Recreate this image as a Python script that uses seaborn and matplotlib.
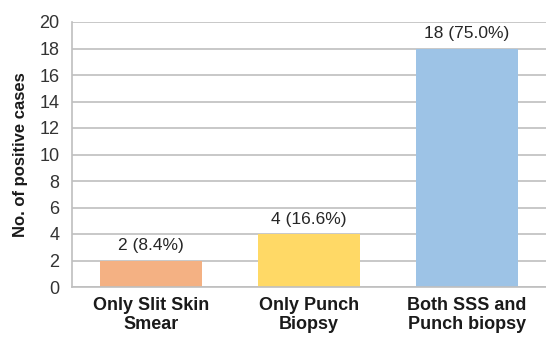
import matplotlib
matplotlib.use("Agg")
import matplotlib.pyplot as plt
import seaborn as sns
import pandas as pd

categories = ["Only Slit Skin\nSmear", "Only Punch\nBiopsy", "Both SSS and\nPunch biopsy"]
values = [2, 4, 18]
labels = ["2 (8.4%)", "4 (16.6%)", "18 (75.0%)"]
colors = ["#F4B183", "#FFD966", "#9DC3E6"]

sns.set_theme(style="white")
plt.rcParams["font.family"] = ["Liberation Sans", "DejaVu Sans"]

df = pd.DataFrame({"cat": categories, "val": values})
fig = plt.figure(figsize=(5.46, 3.42), dpi=100)
ax = fig.add_axes([72/546, 1 - 287/342, (546 - 72)/546, (287 - 22)/342])
sns.barplot(data=df, x="cat", y="val", hue="cat", palette=colors, legend=False,
            width=0.64, ax=ax, saturation=1, linewidth=0, edgecolor="none")
ax.set_ylim(0, 20)
ax.set_yticks(range(0, 21, 2))
ax.yaxis.grid(True, color="#BFBFBF", linewidth=1.2)
ax.set_axisbelow(True)
for s in ["top", "right"]:
    ax.spines[s].set_visible(False)
ax.spines["left"].set_color("#BFBFBF")
ax.spines["bottom"].set_color("#BFBFBF")
ax.spines["left"].set_linewidth(1.2)
ax.spines["bottom"].set_linewidth(1.2)
ax.set_xlabel("")
ax.set_ylabel("No. of positive cases", fontsize=12, fontweight="bold", color="#1a1a1a", labelpad=8)
ax.tick_params(axis="y", labelsize=13, colors="#333333", length=0, pad=9)
ax.tick_params(axis="x", labelsize=13, length=0, pad=7)
for t in ax.get_xticklabels():
    t.set_fontweight("bold")
    t.set_color("#1a1a1a")
    t.set_linespacing(1.15)
for i, (v, lab) in enumerate(zip(values, labels)):
    ax.text(i, v + 0.55, lab, ha="center", va="bottom", fontsize=12.5, color="#262626")
fig.savefig("out.png", dpi=100)
